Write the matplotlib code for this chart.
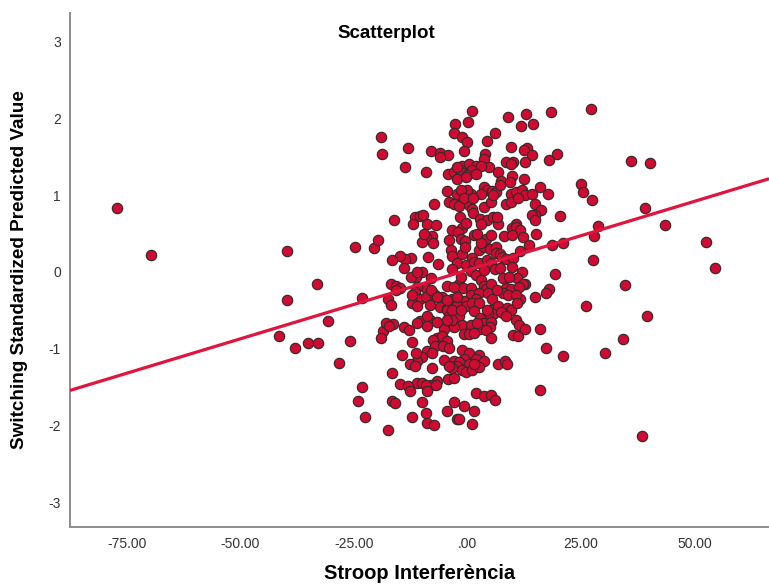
import matplotlib
matplotlib.use("Agg")
import matplotlib.pyplot as plt

plt.rcParams['font.family'] = ['Liberation Sans', 'DejaVu Sans']
plt.rcParams['axes.unicode_minus'] = False

# Stroop interference (x) vs switching standardized predicted value (y)
# outlying cases
outlier_x = [-77.1, -69.7, -39.7, -39.8, -33.2, -41.4, -37.9, -35.2, -32.8, -30.6,
             -28.2, -25.9, -24.8, -23.2, -23.1, -24.0, -22.6, -20.5, -19.6, -19.1,
             -18.8, -17.5, -16.7, -16.6, -16.2, -13.7, -13.1,
             18.3, 27.2, 36.1, 40.3, 24.9, 25.4, 27.5, 39.2, 43.5, 28.7, 27.8, 27.7,
             52.5, 54.5, 34.7, 26.2, 39.5, 34.2, 30.2, 38.5, 21.1, 17.3, 15.9,
             20.4, 21.1, 18.6, 19.7, 17.9, 19.3, 17.9, 17.3, 15.9, 14.8]
outlier_y = [0.83, 0.22, 0.27, -0.37, -0.16, -0.84, -0.99, -0.93, -0.92, -0.64,
             -1.18, -0.90, 0.32, -0.34, -1.50, -1.68, -1.89, 0.31, 0.41, 1.76,
             1.54, -2.06, -1.31, -1.68, 0.68, 1.37, 1.61,
             2.08, 2.12, 1.45, 1.42, 1.15, 1.04, 0.93, 0.83, 0.61, 0.60, 0.47, 0.16,
             0.39, 0.05, -0.17, -0.45, -0.58, -0.87, -1.05, -2.14, -1.10, -0.99, -1.54,
             0.73, 0.38, 0.35, 1.53, 1.46, -0.03, -0.22, -0.28, -0.74, -0.32]

# main cloud around zero, by bands from top to bottom
cloud_x = [1.1, 8.9, 12.8, -2.8, 0.1, 11.9, 14.4, 6.0, -2.9,
           -1.3, 0.0, 4.4, 9.7, 13.1, 12.5, -8.0, -6.0, -4.3, -6.1, -0.8, 3.9, 3.6, 14.3, 12.7,
           -1.1, 0.3, 1.9, 1.1, 4.8, 8.4, 10.0, 9.5, -4.2, -2.9, -1.5, 0.0, 3.0, -9.1, 6.8,
           9.8, 12.5, -2.2, -0.2,
           7.3, 9.3, 3.6, 4.3, 5.5, 6.3, 9.5, 10.6, 12.1, 12.7, 15.9, 17.8, -4.5, -2.4, 0.9,
           3.0, 14.3, 7.1,
           -4.0, -2.9, -1.0, 0.3, 1.1, 3.6, 5.2, 8.4, 9.5, 11.1, 14.9, 16.2, 14.9, 14.3, 14.9,
           -7.4, -1.8, 1.2, 2.8, 4.3, 5.7, 6.8, -11.5, -10.5, -9.7, -11.9, -8.8, -7.0, -1.3,
           -1.6, 10.8, 9.8,
           1.4, -3.4, -2.0, -1.5, -0.5, 2.2, 4.1, 5.2, 8.1, 10.6, 11.6, 12.2, 13.6, 15.2,
           -7.8, -9.1, -9.9, 2.5, 3.6, 5.0, 6.3, -3.7, -3.4, -1.3, -0.5, 1.1, -8.6, -12.4,
           -13.7, -14.8, 6.3, 7.1, 7.7, 8.6, 10.1, 11.6,
           -6.5, -2.4, -0.2, 1.4, 2.5, 4.3, 5.2, 6.0, 7.1, 9.8, 12.0, -9.9, -11.3, -13.9,
           -3.4, 0.9, 1.9, 3.0, 7.9, 10.9, 12.7, -8.0, -9.1, -11.0, -4.5, -1.8, -1.0, 0.9,
           3.6, 4.1, 5.2, 8.4, 9.5, 12.2, 11.4, -16.8, -15.8, -14.8,
           -11.5, -7.8, -5.6, 0.9, 2.5, 4.6, 7.9, 8.9, 11.6, 10.8, -10.5, -9.1, -7.2, -3.4,
           -0.8, 1.9, 5.5, -17.5, -16.9, -12.1, -11.0, -8.3, -6.1, -4.5, -2.4, -0.2, 1.1,
           2.5, 5.2, 6.8, 8.7, 9.5, 10.9, 5.7, 4.6, 7.9,
           -10.5, -8.3, -4.5, -4.0, -1.8, 1.4, 2.8, 3.6, 5.2, 7.3, 8.4, -1.3, 0.9, 2.7, 5.0,
           10.6, 11.4, -5.1, -2.9, -11.0, -14.0, -12.9, -16.4, -18.5, -19.1, -6.7, -5.6,
           -4.5, -0.8, 0.3, 1.4, 4.1, 5.2, 10.0, 11.1, 12.7,
           -12.1, -7.5, -7.1, -5.3, -4.0, -1.3, -8.8, -7.8, 0.3, 2.5, -9.9, -11.0, -14.4,
           -12.6, -11.5, -5.1, -2.9, -0.8, -1.8, 1.9, 3.6, 6.8, 8.2, 8.7, 0.3, -7.8,
           -2.4, -1.3, -0.2, 1.1, -3.4, 2.5, -4.2, -6.7, -8.0, -11.0, -9.9, -9.1, -14.8,
           -13.1, -12.6, -8.8, -6.9, 1.9, 3.6, 5.2, 6.0, -10.1,
           -2.9, -0.8, 1.4, -4.5, -12.1, -9.1, -2.4, -1.8, -8.8, -7.4, 1.1]
cloud_y = [2.10, 2.01, 2.06, 1.92, 1.95, 1.90, 1.92, 1.81, 1.81,
           1.75, 1.69, 1.71, 1.63, 1.61, 1.59, 1.58, 1.55, 1.52, 1.50, 1.57, 1.54, 1.47, 1.52, 1.43,
           1.38, 1.40, 1.38, 1.33, 1.37, 1.43, 1.43, 1.40, 1.28, 1.30, 1.30, 1.26, 1.38, 1.30, 1.30,
           1.25, 1.21, 1.21, 1.23,
           1.18, 1.17, 1.11, 1.07, 1.05, 1.04, 1.01, 1.04, 1.06, 1.00, 1.10, 1.01, 1.05, 1.02, 1.02,
           1.01, 1.01, 1.13,
           0.91, 0.89, 0.91, 0.87, 0.82, 0.84, 0.91, 0.89, 0.91, 0.96, 0.89, 0.80, 0.74, 0.74, 0.67,
           0.89, 0.86, 0.77, 0.69, 0.67, 0.71, 0.62, 0.72, 0.73, 0.74, 0.62, 0.62, 0.61, 0.57,
           0.72, 0.62, 0.57,
           0.48, 0.55, 0.52, 0.43, 0.40, 0.50, 0.43, 0.48, 0.47, 0.59, 0.54, 0.45, 0.35, 0.49,
           0.47, 0.45, 0.39, 0.29, 0.33, 0.30, 0.33, 0.29, 0.21, 0.23, 0.33, 0.18, 0.20, 0.18,
           0.17, 0.21, 0.24, 0.23, 0.19, 0.17, 0.18, 0.27,
           0.10, 0.11, 0.09, 0.13, 0.11, 0.16, 0.11, 0.04, 0.05, 0.06, 0.00, 0.00, -0.07, 0.05,
           0.04, 0.01, -0.04, -0.10, -0.08, -0.08, -0.16, -0.08, -0.21, -0.20, -0.18, -0.16, -0.21, -0.21,
           -0.18, -0.22, -0.16, -0.21, -0.22, -0.16, -0.20, -0.16, -0.18, -0.21,
           -0.26, -0.26, -0.33, -0.30, -0.28, -0.28, -0.27, -0.30, -0.35, -0.30, -0.35, -0.33, -0.30, -0.35,
           -0.38, -0.35, -0.35, -0.35, -0.43, -0.40, -0.45, -0.43, -0.46, -0.47, -0.43, -0.45, -0.41,
           -0.41, -0.49, -0.45, -0.47, -0.50, -0.40, -0.55, -0.54, -0.54,
           -0.64, -0.62, -0.50, -0.57, -0.58, -0.51, -0.60, -0.67, -0.65, -0.52, -0.57, -0.69, -0.69, -0.74, -0.72,
           -0.62, -0.69, -0.74, -0.72, -0.67, -0.72, -0.75, -0.68, -0.77, -0.86, -0.86, -0.84,
           -0.90, -0.81, -0.81, -0.79, -0.75, -0.86, -0.82, -0.83, -0.74,
           -0.91, -0.89, -0.96, -0.96, -0.99, -1.01, -1.03, -1.06, -1.06, -1.08, -1.11, -1.16, -1.08,
           -1.20, -1.23, -1.14, -1.16, -1.13, -1.17, -1.13, -1.16, -1.20, -1.16, -1.20, -1.20, -1.25,
           -1.23, -1.28, -1.30, -1.28, -1.25, -1.24, -1.40, -1.42, -1.47, -1.45, -1.45, -1.47, -1.46,
           -1.49, -1.55, -1.55, -1.47, -1.57, -1.62, -1.60, -1.67, -1.69,
           -1.69, -1.74, -1.81, -1.81, -1.89, -1.84, -1.91, -1.91, -1.97, -1.99, -1.98]

# extra overlapping cases picked up in close-up views of the dense core
core_x = [-2.3, 2.0, -0.1, -1.5, -0.8, 1.3, 5.6,
          -0.2, 3.0, 9.8, 2.9, 6.5, 3.6, 9.1, -3.0, -1.5, -2.3, 6.5, -3.4, -1.5, 4.3, 2.1, -3.4,
          -9.5, -7.5, -4.1, -16.6, -12.4, -11.2, -15.8, -8.1, -6.7, -12.2, -4.5, -18.0, -8.9,
          -6.7, -4.5,
          -17.3, -8.9, -11.4, -4.1, -16.0, -2.9, 1.5]
core_y = [1.37, 1.28, 1.07, 1.07, 0.96, 0.96, 1.00,
          0.64, 0.63, 0.48, 0.38, 0.72, 0.03, -0.06, -0.19, -0.06, -0.32, -0.23, -0.49, -0.49,
          -0.49, -0.67, -0.63,
          0.49, 0.37, 0.41, 0.16, -0.06, 0.00, -0.23, -0.23, -0.33, -0.30, -0.36, -0.67, -0.58,
          -0.65, -0.63,
          -0.71, -0.71, -1.05, -1.22, -1.70, -1.38, -1.20]

# fit line
fit_intercept = 0.024
fit_slope = 0.0179

x_ticks = [-75, -50, -25, 0, 25, 50]
x_tick_labels = ['-75.00', '-50.00', '-25.00', '.00', '25.00', '50.00']
y_ticks = [-3, -2, -1, 0, 1, 2, 3]

fig = plt.figure(figsize=(7.69, 5.86), dpi=100)
ax = fig.add_axes([0.091, 0.1007, 0.909, 0.8771])

xs = outlier_x + cloud_x + core_x
ys = outlier_y + cloud_y + core_y
ax.scatter(xs, ys, s=55, c='#D20A32', edgecolors='#3a2a2a', linewidths=0.9, zorder=3)

x0, x1 = -87.5, 66.4
ax.plot([x0, x1], [fit_intercept + fit_slope * x0, fit_intercept + fit_slope * x1],
        color='#E0143C', lw=2.3, zorder=4, solid_capstyle='butt')

ax.set_xlim(x0, x1)
ax.set_ylim(-3.32, 3.37)
ax.set_xticks(x_ticks)
ax.set_xticklabels(x_tick_labels)
ax.set_yticks(y_ticks)
ax.tick_params(length=0, labelsize=10, labelcolor='#333333')
ax.tick_params(axis='x', pad=7)
ax.tick_params(axis='y', pad=6.5)
for side in ['top', 'right']:
    ax.spines[side].set_visible(False)
for side in ['left', 'bottom']:
    ax.spines[side].set_color('#8c8c8c')
    ax.spines[side].set_linewidth(1.4)

ax.set_xlabel('Stroop Interferència', fontsize=14.5, fontweight='bold', va='center')
ax.xaxis.set_label_coords(0.5, -0.0914)
ax.set_ylabel('Switching Standardized Predicted Value', fontsize=13.6, fontweight='bold', va='center')
ax.yaxis.set_label_coords(-0.0715, 0.5)
fig.text(0.502, 1 - 33 / 586, 'Scatterplot', fontsize=13.5, fontweight='bold', ha='center', va='center')

fig.savefig('out.png', dpi=100)
